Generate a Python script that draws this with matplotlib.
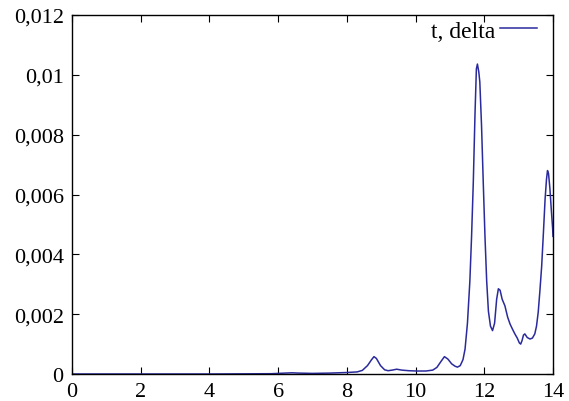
import matplotlib
matplotlib.use("Agg")
import matplotlib.pyplot as plt
from matplotlib.ticker import FuncFormatter

plt.rcParams['font.family'] = ['Liberation Serif', 'DejaVu Serif']

t = [0.0, 2.0, 4.0, 5.8, 6.2, 6.4, 6.6, 7.0, 7.5, 8.0, 8.3, 8.45, 8.6, 8.72, 8.79, 8.86,
     8.98, 9.1, 9.2, 9.32, 9.45, 9.6, 9.8, 10.03, 10.3, 10.5, 10.62, 10.74, 10.84,
     10.94, 11.05, 11.15, 11.22, 11.3, 11.38, 11.44, 11.51, 11.58, 11.63, 11.68,
     11.73, 11.77, 11.8, 11.84, 11.87, 11.92, 11.97, 12.02, 12.07, 12.12, 12.18,
     12.24, 12.3, 12.36, 12.41, 12.46, 12.52, 12.6, 12.68, 12.75, 12.82, 12.89,
     12.96, 13.02, 13.06, 13.1, 13.14, 13.18, 13.25, 13.33, 13.4, 13.47, 13.52,
     13.57, 13.62, 13.67, 13.72, 13.77, 13.81, 13.84, 13.87, 13.91, 13.95, 13.99, 14.0]
delta = [0.0, 0.0, 0.0, 0.00001, 0.00003, 0.00004, 0.00003, 0.00002, 0.00003, 0.00005,
         0.00007, 0.00012, 0.00028, 0.00048, 0.00058, 0.00052, 0.00028, 0.00014,
         0.00011, 0.00013, 0.00016, 0.00013, 0.00011, 0.0001, 0.0001, 0.00013, 0.00022,
         0.00042, 0.00058, 0.00050, 0.00034, 0.00026, 0.00023, 0.00028, 0.00048,
         0.00083, 0.0017, 0.0031, 0.0046, 0.0064, 0.0087, 0.0102, 0.01036, 0.0101,
         0.00976, 0.0083, 0.0064, 0.0046, 0.0031, 0.0021, 0.0016, 0.00145, 0.0017,
         0.0025, 0.00285, 0.0028, 0.0025, 0.00228, 0.0019, 0.00167, 0.0015, 0.00134,
         0.0012, 0.00104, 0.001, 0.00112, 0.0013, 0.00134, 0.00122, 0.00117, 0.0012,
         0.00134, 0.0016, 0.00207, 0.0028, 0.0036, 0.0047, 0.00585, 0.0065, 0.0068,
         0.0067, 0.0062, 0.0055, 0.00485, 0.0046]

xticks = [0, 2, 4, 6, 8, 10, 12, 14]
yticks = [0, 0.002, 0.004, 0.006, 0.008, 0.01, 0.012]

fig = plt.figure(figsize=(5.69, 4.02), dpi=100)
ax = fig.add_axes([72/569, 27/402, (553-72)/569, (375-16)/402])
ax.plot(t, delta, color='#2a2a9c', lw=1.1, label='t, delta')
ax.set_xlim(0, 14)
ax.set_ylim(0, 0.012)
ax.set_xticks(xticks)
ax.set_yticks(yticks)

def fmt(v, pos):
    return ('%g' % round(v, 6)).replace('.', ',')

ax.yaxis.set_major_formatter(FuncFormatter(fmt))
ax.xaxis.set_major_formatter(FuncFormatter(fmt))
ax.tick_params(direction='in', top=True, right=True, length=5, width=0.8,
               labelsize=16, pad=6, colors='black')
for s in ax.spines.values():
    s.set_linewidth(1.0)
leg = ax.legend(loc='upper right', frameon=False, markerfirst=False, fontsize=17,
                handlelength=1.6, handletextpad=0.2, borderaxespad=0.2,
                bbox_to_anchor=(0.997, 1.025))
fig.savefig('out.png', dpi=100)
